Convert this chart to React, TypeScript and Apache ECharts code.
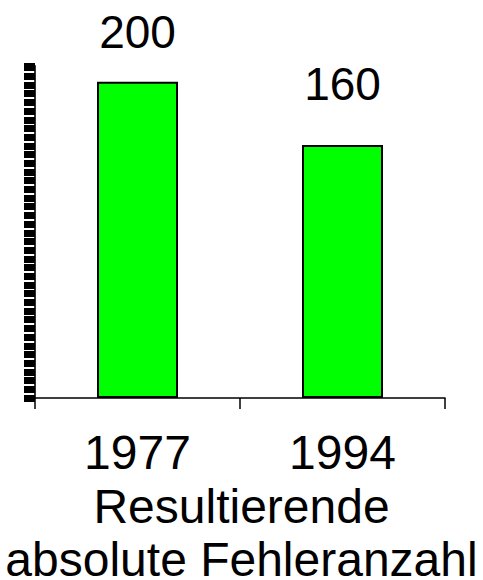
import React, { useEffect, useRef } from "react";
import * as echarts from "echarts";

const categories = ["1977", "1994"];
const values = [200, 160];
const titleLines = ["Resultierende", "absolute Fehleranzahl"];
const yMax = 210;
const yTickStep = 5.5;

export default function App() {
  const ref = useRef<HTMLDivElement>(null);
  useEffect(() => {
    const chart = echarts.init(ref.current!, null, { renderer: "svg" });
    const font = "'Liberation Sans', Arial, sans-serif";
    const labelGaps = [27, 38];
    chart.setOption({
      animation: false,
      backgroundColor: "#ffffff",
      grid: { left: 35, right: 38, top: 66, bottom: 182, containLabel: false },
      xAxis: {
        type: "category",
        data: categories,
        boundaryGap: true,
        axisLine: { show: true, lineStyle: { color: "#000", width: 1.5 } },
        axisTick: { show: true, length: 11, alignWithLabel: false, lineStyle: { color: "#000", width: 1.5 } },
        axisLabel: { color: "#000", fontSize: 48, fontFamily: font, margin: 30 },
        splitLine: { show: false },
      },
      yAxis: {
        type: "value",
        min: 0,
        max: yMax,
        interval: yTickStep,
        axisLine: { show: true, lineStyle: { color: "#333", width: 2 } },
        axisTick: { show: true, length: 11, lineStyle: { color: "#000", width: 7 } },
        axisLabel: { show: false },
        splitLine: { show: false },
      },
      series: [
        {
          type: "bar",
          data: values.map((v, i) => ({ value: v, label: { distance: labelGaps[i] } })),
          barWidth: 81,
          itemStyle: { color: "#00ff00", borderColor: "#000", borderWidth: 2 },
          label: {
            show: true,
            position: "top",
            color: "#000",
            fontSize: 46,
            fontFamily: font,
          },
        },
      ],
      graphic: titleLines.map((t, i) => ({
        type: "text",
        left: "center",
        top: 482 + i * 53,
        style: { text: t, fontSize: 48, fontFamily: font, fill: "#000" },
      })),
    });
    return () => chart.dispose();
  }, []);
  return <div ref={ref} style={{ width: 483, height: 580, position: "absolute", left: 0, top: 0 }} />;
}
